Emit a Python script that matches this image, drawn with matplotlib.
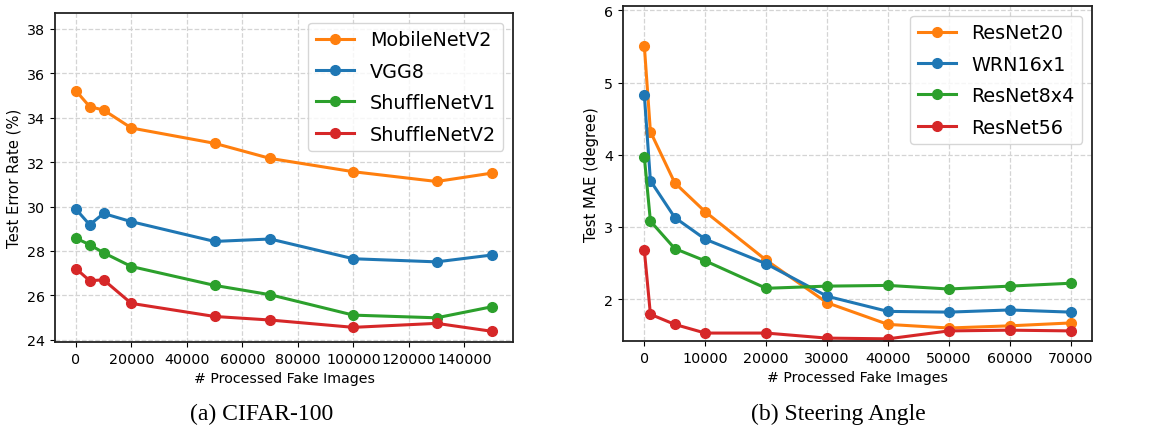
import numpy as np
import matplotlib.pyplot as plt

# CIFAR-100 panel
x_cifar = [0, 5000, 10000, 20000, 50000, 70000, 100000, 130000, 150000]
mobilenetv2 = [35.22, 34.50, 34.35, 33.54, 32.85, 32.17, 31.57, 31.13, 31.51]
vgg8 = [29.89, 29.18, 29.69, 29.32, 28.43, 28.54, 27.65, 27.51, 27.82]
shufflenetv1 = [28.58, 28.28, 27.92, 27.30, 26.45, 26.03, 25.11, 24.99, 25.49]
shufflenetv2 = [27.21, 26.66, 26.70, 25.64, 25.05, 24.89, 24.56, 24.74, 24.38]

# Steering angle panel
x_steer = [0, 1000, 5000, 10000, 20000, 30000, 40000, 50000, 60000, 70000]
resnet20 = [5.51, 4.32, 3.61, 3.21, 2.54, 1.95, 1.65, 1.60, 1.63, 1.67]
wrn16x1 = [4.83, 3.64, 3.13, 2.83, 2.49, 2.04, 1.83, 1.82, 1.85, 1.82]
resnet8x4 = [3.97, 3.08, 2.70, 2.53, 2.15, 2.18, 2.19, 2.14, 2.18, 2.22]
resnet56 = [2.68, 1.79, 1.65, 1.53, 1.53, 1.46, 1.45, 1.56, 1.57, 1.56]

colors = ['#ff7f0e', '#1f77b4', '#2ca02c', '#d62728']

fig = plt.figure(figsize=(11.5, 4.31), dpi=100)
W, H = 1150, 431
ax1 = fig.add_axes([55 / W, 1 - 343 / H, (513 - 55) / W, (343 - 14) / H])
ax2 = fig.add_axes([623 / W, 1 - 342 / H, (1092 - 623) / W, (342 - 7) / H])

def draw(ax, x, series, names):
    for y, name, c in zip(series, names, colors):
        ax.plot(x, y, '-o', color=c, linewidth=2.2, markersize=7, label=name)
    ax.grid(True, linestyle='--', color='#d4d4d4', linewidth=0.9)
    ax.set_axisbelow(True)
    for s in ax.spines.values():
        s.set_linewidth(1.3)
        s.set_color('#222222')
    ax.tick_params(labelsize=10.3)
    ax.set_xlabel('# Processed Fake Images', fontsize=10.2)
    ax.legend(loc='upper right', fontsize=13.8, labelspacing=0.65)

draw(ax1, x_cifar, [mobilenetv2, vgg8, shufflenetv1, shufflenetv2],
     ['MobileNetV2', 'VGG8', 'ShuffleNetV1', 'ShuffleNetV2'])
ax1.set_ylabel('Test Error Rate (%)', fontsize=10.6)
ax1.set_ylim(23.9, 38.72)
ax1.set_yticks([24, 26, 28, 30, 32, 34, 36, 38])
ax1.set_xticks(np.arange(0, 140001, 20000))

draw(ax2, x_steer, [resnet20, wrn16x1, resnet8x4, resnet56],
     ['ResNet20', 'WRN16x1', 'ResNet8x4', 'ResNet56'])
ax2.set_ylabel('Test MAE (degree)', fontsize=10.6)
ax2.set_ylim(1.42, 6.06)
ax2.set_yticks([2, 3, 4, 5, 6])
ax2.set_xticks(np.arange(0, 70001, 10000))

fig.text(262 / W, 1 - 414 / H, '(a) CIFAR-100', family='Liberation Serif',
         fontsize=17, ha='center', va='center')
fig.text(838 / W, 1 - 414 / H, '(b) Steering Angle', family='Liberation Serif',
         fontsize=17, ha='center', va='center')

fig.savefig('out.png', dpi=100)
